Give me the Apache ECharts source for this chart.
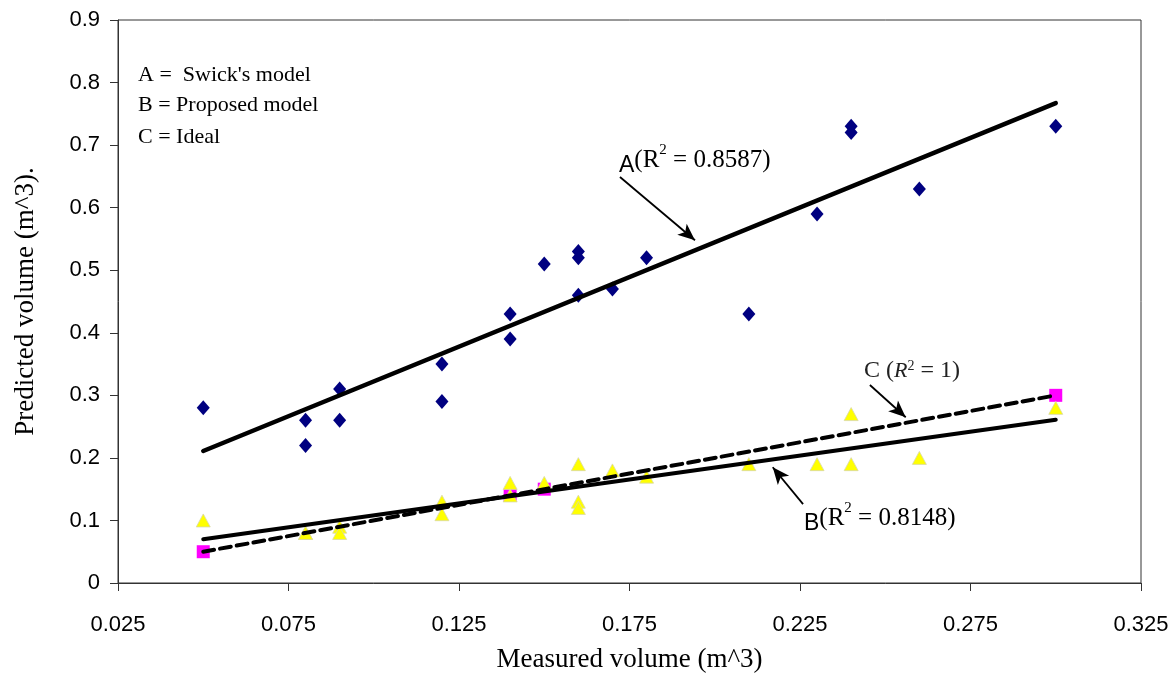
<!DOCTYPE html>
<html>
<head>
<meta charset="utf-8">
<script src="https://cdn.jsdelivr.net/npm/echarts@6/dist/echarts.min.js"></script>
<style>
  html, body { margin: 0; padding: 0; background: #fff; }
  #chart { width: 1169px; height: 675px; }
</style>
</head>
<body>
<div id="chart"></div>
<script>
// measured volume (x) shared by Swick's and proposed model
const measured = [0.05, 0.08, 0.08, 0.09, 0.09, 0.12, 0.12, 0.14, 0.14, 0.15, 0.16,
  0.16, 0.16, 0.17, 0.18, 0.21, 0.23, 0.24, 0.24, 0.26, 0.30]
const swick = [0.28, 0.26, 0.22, 0.31, 0.26, 0.35, 0.29, 0.43, 0.39, 0.51, 0.53,
  0.52, 0.46, 0.47, 0.52, 0.43, 0.59, 0.73, 0.72, 0.63, 0.73]
const proposed = [0.10, 0.08, 0.08, 0.09, 0.08, 0.13, 0.11, 0.16, 0.14, 0.16, 0.19,
  0.13, 0.12, 0.18, 0.17, 0.19, 0.19, 0.27, 0.19, 0.20, 0.28]
const idealX = [0.05, 0.14, 0.15, 0.30]
const idealY = [0.05, 0.14, 0.15, 0.30]

// trend lines (end points)
const trendX = [0.05, 0.30]
const trendA = [0.211, 0.767]
const trendB = [0.070, 0.261]
const trendC = [0.05, 0.30]

// arrows [x1, y1, x2, y2]
const arrowA = [0.1722, 0.649, 0.1942, 0.548]
const arrowB = [0.2259, 0.126, 0.2170, 0.185]
const arrowC = [0.2455, 0.3165, 0.2560, 0.265]

const xTicks = [0.025, 0.075, 0.125, 0.175, 0.225, 0.275, 0.325]
const yTicks = [0, 0.1, 0.2, 0.3, 0.4, 0.5, 0.6, 0.7, 0.8, 0.9]

const pairs = (xs, ys) => xs.map((x, i) => [x, ys[i]])

const serif = 'Liberation Serif, Times New Roman, serif'
const sans = 'Liberation Sans, Arial, sans-serif'

const arrowLine = (a) => ({
  type: 'line',
  data: [],
  silent: true,
  markLine: {
    silent: true,
    symbol: ['none', 'arrow'],
    symbolSize: [11, 17],
    label: { show: false },
    lineStyle: { color: '#000', width: 1.8, type: 'solid' },
    data: [[{ coord: [a[0], a[1]] }, { coord: [a[2], a[3]] }]]
  }
})

const chart = echarts.init(document.getElementById('chart'))

const option = {
  animation: false,
  backgroundColor: '#fff',
  grid: {
    left: 118, right: 28, top: 20, bottom: 92,
    containLabel: false,
    outerBoundsMode: 'none',
    show: true, borderColor: '#333', borderWidth: 1
  },
  xAxis: {
    type: 'value',
    min: 0.025,
    max: 0.325,
    name: 'Measured volume (m^3)',
    nameLocation: 'middle',
    nameGap: 63,
    nameTextStyle: { fontFamily: serif, fontSize: 27, color: '#000' },
    axisLine: { lineStyle: { color: '#333', width: 1 } },
    axisTick: { show: true, length: 8, lineStyle: { color: '#333' }, customValues: xTicks },
    axisLabel: {
      fontFamily: sans, fontSize: 22, color: '#000', margin: 31,
      customValues: xTicks,
      formatter: v => v.toFixed(3)
    },
    splitLine: { show: false }
  },
  yAxis: {
    type: 'value',
    min: 0,
    max: 0.9,
    interval: 0.1,
    name: 'Predicted volume (m^3).',
    nameLocation: 'middle',
    nameGap: 79,
    nameTextStyle: { fontFamily: serif, fontSize: 27, color: '#000' },
    axisLine: { show: true, lineStyle: { color: '#333', width: 1 } },
    axisTick: { show: true, length: 8, lineStyle: { color: '#333' } },
    axisLabel: {
      fontFamily: sans, fontSize: 22, color: '#000', margin: 18,
      formatter: v => yTicks.includes(+v.toFixed(1)) ? String(+v.toFixed(1)) : ''
    },
    splitLine: { show: false }
  },
  series: [
    {
      name: "Swick's model",
      type: 'scatter',
      symbol: 'diamond',
      symbolSize: [13, 15],
      itemStyle: { color: '#000080', opacity: 1 },
      data: pairs(measured, swick),
      z: 2
    },
    {
      name: 'Proposed model',
      type: 'scatter',
      symbol: 'triangle',
      symbolSize: [14, 13],
      itemStyle: { color: '#ffff00', borderColor: '#d8d8a8', borderWidth: 0.8, opacity: 1 },
      data: pairs(measured, proposed),
      z: 2
    },
    {
      name: 'Ideal',
      type: 'scatter',
      symbol: 'rect',
      symbolSize: 13,
      itemStyle: { color: '#ff00ff', opacity: 1 },
      data: pairs(idealX, idealY),
      z: 1
    },
    {
      type: 'line', symbol: 'none', silent: true, z: 3,
      lineStyle: { color: '#000', width: 4.5, cap: 'round' },
      data: pairs(trendX, trendA)
    },
    {
      type: 'line', symbol: 'none', silent: true, z: 3,
      lineStyle: { color: '#000', width: 4, cap: 'round' },
      data: pairs(trendX, trendB)
    },
    {
      type: 'line', symbol: 'none', silent: true, z: 3,
      lineStyle: { color: '#000', width: 4, type: [11, 6], cap: 'round' },
      data: pairs(trendX, trendC)
    },
    arrowLine(arrowA),
    arrowLine(arrowB),
    arrowLine(arrowC)
  ],
  graphic: [
    { type: 'text', x: 138, y: 75, style: { text: "A =  Swick's model", font: '22px ' + serif, fill: '#000', verticalAlign: 'middle' } },
    { type: 'text', x: 138, y: 105, style: { text: 'B = Proposed model', font: '22px ' + serif, fill: '#000', verticalAlign: 'middle' } },
    { type: 'text', x: 138, y: 137, style: { text: 'C = Ideal', font: '22px ' + serif, fill: '#000', verticalAlign: 'middle' } },
    {
      type: 'text', x: 619, y: 160,
      style: {
        text: '{a|A}{t|(R}{s|2}{t| = 0.8587)}',
        verticalAlign: 'middle', fill: '#000',
        rich: {
          a: { fontFamily: sans, fontSize: 23, verticalAlign: 'bottom', padding: [12, 0, 0, 0] },
          t: { fontFamily: serif, fontSize: 25 },
          s: { fontFamily: serif, fontSize: 15, verticalAlign: 'top' }
        }
      }
    },
    {
      type: 'text', x: 804, y: 518,
      style: {
        text: '{a|B}{t|(R}{s|2}{t| = 0.8148)}',
        verticalAlign: 'middle', fill: '#000',
        rich: {
          a: { fontFamily: sans, fontSize: 23, verticalAlign: 'bottom', padding: [12, 0, 0, 0] },
          t: { fontFamily: serif, fontSize: 25 },
          s: { fontFamily: serif, fontSize: 15, verticalAlign: 'top' }
        }
      }
    },
    {
      type: 'text', x: 864, y: 371,
      style: {
        text: '{t|C (}{i|R}{s|2}{t| = 1)}',
        verticalAlign: 'middle', fill: '#222',
        rich: {
          t: { fontFamily: serif, fontSize: 24 },
          i: { fontFamily: serif, fontSize: 22, fontStyle: 'italic' },
          s: { fontFamily: serif, fontSize: 14, verticalAlign: 'top' }
        }
      }
    }
  ]
}

chart.setOption(option)
window.addEventListener('resize', () => chart.resize())
</script>
</body>
</html>
